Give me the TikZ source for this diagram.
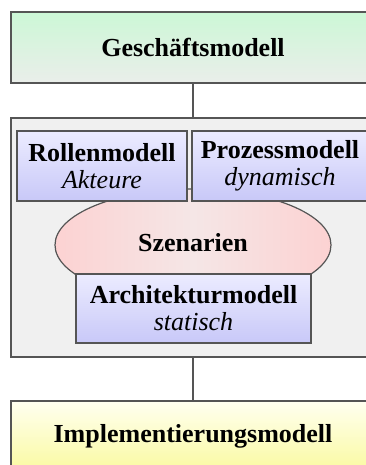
\documentclass[tikz,border=0pt]{standalone}
\usepackage{fontspec}
\setmainfont{Liberation Serif}
\usetikzlibrary{shapes.geometric}

\definecolor{gmtop}{RGB}{204,247,214}
\definecolor{gmbot}{RGB}{234,238,234}
\definecolor{imtop}{RGB}{255,255,240}
\definecolor{imbot}{RGB}{250,250,160}
\definecolor{bltop}{RGB}{236,236,255}
\definecolor{blbot}{RGB}{200,200,248}
\definecolor{rdside}{RGB}{252,210,210}
\definecolor{rdmid}{RGB}{245,230,230}
\definecolor{rahmenfarbe}{RGB}{240,240,240}
\definecolor{linie}{RGB}{85,85,85}

\tikzset{
  modell/.style={draw=linie, line width=1.2pt, rectangle, align=center,
    inner sep=0pt, font=\fontsize{26}{27}\selectfont},
  hauptmodell/.style={modell, minimum width=364pt, minimum height=71pt,
    font=\fontsize{26}{27}\selectfont\bfseries},
  teilmodell/.style={modell, top color=bltop, bottom color=blbot},
  szenario/.style={draw=linie, line width=1.2pt, ellipse, inner sep=0pt,
    minimum width=276pt, minimum height=112pt,
    left color=rdside, right color=rdside, middle color=rdmid},
  verbindung/.style={draw=linie, line width=2pt}
}

\begin{document}
\begin{tikzpicture}[x=1pt, y=-1pt]
  \useasboundingbox (0,0) rectangle (366,465);

  % oben und unten
  \node (gm) [hauptmodell, top color=gmtop, bottom color=gmbot] at (193,47.5) {Geschäftsmodell};
  \node (im) [hauptmodell, top color=imtop, bottom color=imbot] at (193,436.5) {Implementierungsmodell};

  % Rahmen in der Mitte
  \node (rahmen) [modell, fill=rahmenfarbe, minimum width=364pt, minimum height=239pt] at (193,237.5) {};

  \draw[verbindung] (gm.south) -- (rahmen.north);
  \draw[verbindung] (rahmen.south) -- (im.north);

  % Szenarien
  \begin{scope}
    \clip (30,150) rectangle (360,274);
    \node (sz) [szenario] at (193,245) {};
  \end{scope}
  \node (sztext) [font=\fontsize{26}{27}\selectfont\bfseries] at (193,243) {Szenarien};

  \node (rm) [teilmodell, minimum width=170pt, minimum height=70pt] at (102,166)
    {\textbf{Rollenmodell}\\\textit{Akteure}};
  \node (pm) [teilmodell, minimum width=176pt, minimum height=70pt] at (280,166)
    {\textbf{Prozessmodell}\\\textit{dynamisch}};
  \node (am) [teilmodell, minimum width=235pt, minimum height=69pt] at (193.5,308.5)
    {\textbf{Architekturmodell}\\\textit{statisch}};
\end{tikzpicture}
\end{document}
